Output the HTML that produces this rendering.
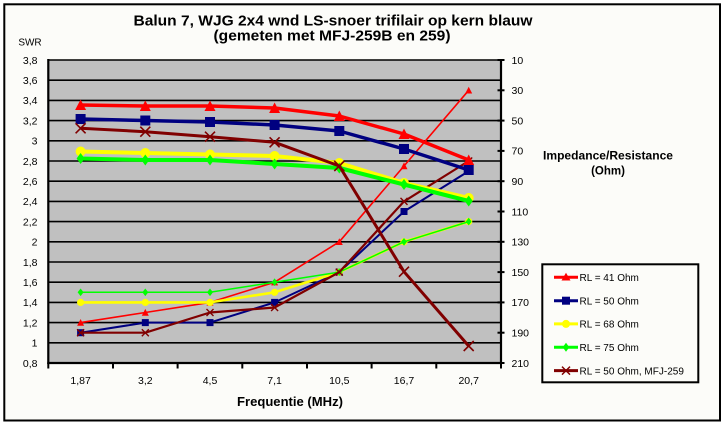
<!DOCTYPE html>
<html>
<head>
<meta charset="utf-8">
<style>
  html, body { margin: 0; padding: 0; background: #ffffff; }
  svg { display: block; }
  text { font-family: "Liberation Sans", Arial, sans-serif; fill: #000; }
</style>
</head>
<body>
<svg width="726" height="425" viewBox="0 0 726 425" xmlns="http://www.w3.org/2000/svg">
  <defs>
    <!-- big markers -->
    <marker id="triB" markerUnits="userSpaceOnUse" markerWidth="20" markerHeight="20" refX="0" refY="0" overflow="visible">
      <path d="M0,-5.5 L5.5,5 L-5.5,5Z" fill="#ff0000"/>
    </marker>
    <marker id="sqB" markerUnits="userSpaceOnUse" markerWidth="20" markerHeight="20" refX="0" refY="0" overflow="visible">
      <rect x="-5" y="-5" width="10" height="10" fill="#000080"/>
    </marker>
    <marker id="ciB" markerUnits="userSpaceOnUse" markerWidth="20" markerHeight="20" refX="0" refY="0" overflow="visible">
      <circle cx="0" cy="0" r="5" fill="#ffff00"/>
    </marker>
    <marker id="diB" markerUnits="userSpaceOnUse" markerWidth="20" markerHeight="20" refX="0" refY="0" overflow="visible">
      <path d="M0,-5.5 L4,0 L0,5.5 L-4,0Z" fill="#00ff00"/>
    </marker>
    <marker id="xB" markerUnits="userSpaceOnUse" markerWidth="20" markerHeight="20" refX="0" refY="0" overflow="visible">
      <path d="M-5,-5 L5,5 M-5,5 L5,-5" stroke="#800000" stroke-width="1.6" fill="none"/>
    </marker>
    <!-- small markers -->
    <marker id="triS" markerUnits="userSpaceOnUse" markerWidth="20" markerHeight="20" refX="0" refY="0" overflow="visible">
      <path d="M0,-3.6 L3.5,3.2 L-3.5,3.2Z" fill="#ff0000"/>
    </marker>
    <marker id="sqS" markerUnits="userSpaceOnUse" markerWidth="20" markerHeight="20" refX="0" refY="0" overflow="visible">
      <rect x="-3.5" y="-3.5" width="7" height="7" fill="#000080"/>
    </marker>
    <marker id="ciS" markerUnits="userSpaceOnUse" markerWidth="20" markerHeight="20" refX="0" refY="0" overflow="visible">
      <circle cx="0" cy="0" r="3.6" fill="#ffff00"/>
    </marker>
    <marker id="diS" markerUnits="userSpaceOnUse" markerWidth="20" markerHeight="20" refX="0" refY="0" overflow="visible">
      <path d="M0,-3.8 L3,0 L0,3.8 L-3,0Z" fill="#00ff00"/>
    </marker>
    <marker id="xS" markerUnits="userSpaceOnUse" markerWidth="20" markerHeight="20" refX="0" refY="0" overflow="visible">
      <path d="M-3.5,-3.5 L3.5,3.5 M-3.5,3.5 L3.5,-3.5" stroke="#800000" stroke-width="1.4" fill="none"/>
    </marker>
  </defs>

  <!-- background and chart border -->
  <rect x="0" y="0" width="726" height="425" fill="#ffffff"/>
  <rect x="4.3" y="4.3" width="715.7" height="416.2" fill="#fcfcf9" stroke="#000" stroke-width="2"/>

  <!-- title -->
  <text x="333" y="25.5" font-size="15" font-weight="bold" text-anchor="middle" textLength="399" lengthAdjust="spacingAndGlyphs">Balun 7, WJG 2x4 wnd LS-snoer trifilair op kern blauw</text>
  <text x="332" y="40.5" font-size="15" font-weight="bold" text-anchor="middle" textLength="237" lengthAdjust="spacingAndGlyphs">(gemeten met MFJ-259B en 259)</text>

  <!-- plot area -->
  <rect x="48.3" y="60" width="452.7" height="303" fill="#c0c0c0"/>

  <!-- gridlines -->
  <g stroke="#000" stroke-width="1.6">
    <line x1="48.3" y1="60" x2="501" y2="60"/>
    <line x1="48.3" y1="80.2" x2="501" y2="80.2"/>
    <line x1="48.3" y1="100.4" x2="501" y2="100.4"/>
    <line x1="48.3" y1="120.6" x2="501" y2="120.6"/>
    <line x1="48.3" y1="140.8" x2="501" y2="140.8"/>
    <line x1="48.3" y1="161" x2="501" y2="161"/>
    <line x1="48.3" y1="181.2" x2="501" y2="181.2"/>
    <line x1="48.3" y1="201.4" x2="501" y2="201.4"/>
    <line x1="48.3" y1="221.6" x2="501" y2="221.6"/>
    <line x1="48.3" y1="241.8" x2="501" y2="241.8"/>
    <line x1="48.3" y1="262" x2="501" y2="262"/>
    <line x1="48.3" y1="282.2" x2="501" y2="282.2"/>
    <line x1="48.3" y1="302.4" x2="501" y2="302.4"/>
    <line x1="48.3" y1="322.6" x2="501" y2="322.6"/>
    <line x1="48.3" y1="342.8" x2="501" y2="342.8"/>
  </g>

  <!-- axes -->
  <g stroke="#000" stroke-width="2.2">
    <line x1="48.3" y1="59" x2="48.3" y2="364"/>
    <line x1="47.3" y1="363" x2="502" y2="363"/>
    <line x1="501" y1="59" x2="501" y2="364"/>
  </g>
  <!-- x ticks -->
  <g stroke="#000" stroke-width="2">
    <line x1="48.3" y1="363" x2="48.3" y2="368.5"/>
    <line x1="113" y1="363" x2="113" y2="368.5"/>
    <line x1="177.6" y1="363" x2="177.6" y2="368.5"/>
    <line x1="242.3" y1="363" x2="242.3" y2="368.5"/>
    <line x1="307" y1="363" x2="307" y2="368.5"/>
    <line x1="371.6" y1="363" x2="371.6" y2="368.5"/>
    <line x1="436.3" y1="363" x2="436.3" y2="368.5"/>
    <line x1="501" y1="363" x2="501" y2="368.5"/>
  </g>
  <!-- right ticks -->
  <g stroke="#000" stroke-width="2">
    <line x1="497.5" y1="60" x2="504.5" y2="60"/>
    <line x1="497.5" y1="90.3" x2="504.5" y2="90.3"/>
    <line x1="497.5" y1="120.6" x2="504.5" y2="120.6"/>
    <line x1="497.5" y1="150.9" x2="504.5" y2="150.9"/>
    <line x1="497.5" y1="181.2" x2="504.5" y2="181.2"/>
    <line x1="497.5" y1="211.5" x2="504.5" y2="211.5"/>
    <line x1="497.5" y1="241.8" x2="504.5" y2="241.8"/>
    <line x1="497.5" y1="272.1" x2="504.5" y2="272.1"/>
    <line x1="497.5" y1="302.4" x2="504.5" y2="302.4"/>
    <line x1="497.5" y1="332.7" x2="504.5" y2="332.7"/>
    <line x1="497.5" y1="363" x2="504.5" y2="363"/>
  </g>

  <!-- left axis labels -->
  <g font-size="10.5" text-anchor="end">
    <text x="37.5" y="63.8">3,8</text>
    <text x="37.5" y="84">3,6</text>
    <text x="37.5" y="104.2">3,4</text>
    <text x="37.5" y="124.4">3,2</text>
    <text x="37.5" y="144.6">3</text>
    <text x="37.5" y="164.8">2,8</text>
    <text x="37.5" y="185">2,6</text>
    <text x="37.5" y="205.2">2,4</text>
    <text x="37.5" y="225.4">2,2</text>
    <text x="37.5" y="245.6">2</text>
    <text x="37.5" y="265.8">1,8</text>
    <text x="37.5" y="286">1,6</text>
    <text x="37.5" y="306.2">1,4</text>
    <text x="37.5" y="326.4">1,2</text>
    <text x="37.5" y="346.6">1</text>
    <text x="37.5" y="366.8">0,8</text>
  </g>
  <text x="30" y="45.5" font-size="10" text-anchor="middle">SWR</text>

  <!-- right axis labels -->
  <g font-size="10.5" text-anchor="start">
    <text x="511.5" y="63.8">10</text>
    <text x="511.5" y="94.1">30</text>
    <text x="511.5" y="124.4">50</text>
    <text x="511.5" y="154.7">70</text>
    <text x="511.5" y="185">90</text>
    <text x="511.5" y="215.3">110</text>
    <text x="511.5" y="245.6">130</text>
    <text x="511.5" y="275.9">150</text>
    <text x="511.5" y="306.2">170</text>
    <text x="511.5" y="336.5">190</text>
    <text x="511.5" y="366.8">210</text>
  </g>
  <text x="608" y="159.5" font-size="11.5" font-weight="bold" text-anchor="middle" textLength="130" lengthAdjust="spacingAndGlyphs">Impedance/Resistance</text>
  <text x="608" y="174.5" font-size="11.5" font-weight="bold" text-anchor="middle">(Ohm)</text>

  <!-- x labels -->
  <g font-size="10.5" text-anchor="middle">
    <text x="80.6" y="384">1,87</text>
    <text x="145.3" y="384">3,2</text>
    <text x="210" y="384">4,5</text>
    <text x="274.6" y="384">7,1</text>
    <text x="339.3" y="384">10,5</text>
    <text x="404" y="384">16,7</text>
    <text x="468.7" y="384">20,7</text>
  </g>
  <text x="290" y="406" font-size="12.5" font-weight="bold" text-anchor="middle" textLength="106" lengthAdjust="spacingAndGlyphs">Frequentie (MHz)</text>

  <!-- thin series (SWR) -->
  <g fill="none" stroke-linejoin="round">
    <polyline points="80.6,322.6 145.3,312.5 210,302.4 274.6,282.2 339.3,241.8 404,166 468.7,90.3" stroke="#ff0000" stroke-width="1.6" marker-start="url(#triS)" marker-mid="url(#triS)" marker-end="url(#triS)"/>
    <polyline points="80.6,332.7 145.3,322.6 210,322.6 274.6,302.4 339.3,272.1 404,211.5 468.7,171.1" stroke="#000080" stroke-width="2" marker-start="url(#sqS)" marker-mid="url(#sqS)" marker-end="url(#sqS)"/>
    <polyline points="80.6,302.4 145.3,302.4 210,302.4 274.6,292.3 339.3,272.1 404,241.8 468.7,221.6" stroke="#ffff00" stroke-width="2.6" marker-start="url(#ciS)" marker-mid="url(#ciS)" marker-end="url(#ciS)"/>
    <polyline points="80.6,292.3 145.3,292.3 210,292.3 274.6,282.2 339.3,272.1 404,241.8 468.7,221.6" stroke="#00ff00" stroke-width="1.5" marker-start="url(#diS)" marker-mid="url(#diS)" marker-end="url(#diS)"/>
    <polyline points="80.6,332.7 145.3,332.7 210,312.5 274.6,307.5 339.3,272.1 404,201.4 468.7,161" stroke="#800000" stroke-width="2.2" marker-start="url(#xS)" marker-mid="url(#xS)" marker-end="url(#xS)"/>
  </g>

  <!-- thick series (impedance) -->
  <g fill="none" stroke-linejoin="round">
    <polyline points="80.6,105 145.3,106 210,106 274.6,108 339.3,116 404,134 468.7,160" stroke="#ff0000" stroke-width="3.5" marker-start="url(#triB)" marker-mid="url(#triB)" marker-end="url(#triB)"/>
    <polyline points="80.6,119 145.3,120.5 210,122 274.6,125 339.3,131 404,149 468.7,170" stroke="#000080" stroke-width="3.5" marker-start="url(#sqB)" marker-mid="url(#sqB)" marker-end="url(#sqB)"/>
    <polyline points="80.6,151.5 145.3,153 210,154.5 274.6,156 339.3,163 404,183 468.7,198" stroke="#ffff00" stroke-width="4" marker-start="url(#ciB)" marker-mid="url(#ciB)" marker-end="url(#ciB)"/>
    <polyline points="80.6,158.5 145.3,160 210,160 274.6,164 339.3,168 404,184.5 468.7,201" stroke="#00ff00" stroke-width="4" marker-start="url(#diB)" marker-mid="url(#diB)" marker-end="url(#diB)"/>
    <polyline points="80.6,128.3 145.3,131.7 210,136.7 274.6,142.3 339.3,166 404,271.7 468.7,346" stroke="#800000" stroke-width="3" marker-start="url(#xB)" marker-mid="url(#xB)" marker-end="url(#xB)"/>
  </g>

  <!-- legend -->
  <rect x="542.3" y="264.3" width="156" height="118" fill="#fcfcf9" stroke="#000" stroke-width="2"/>
  <g stroke-width="3">
    <line x1="554" y1="277.3" x2="578" y2="277.3" stroke="#ff0000"/>
    <path d="M566,272.8 L570.5,280.5 L561.5,280.5Z" fill="#ff0000" stroke="none"/>
    <line x1="554" y1="300.7" x2="578" y2="300.7" stroke="#000080"/>
    <rect x="562" y="296.7" width="8" height="8" fill="#000080" stroke="none"/>
    <line x1="554" y1="323.9" x2="578" y2="323.9" stroke="#ffff00"/>
    <circle cx="566" cy="323.9" r="4" fill="#ffff00" stroke="none"/>
    <line x1="554" y1="347.2" x2="578" y2="347.2" stroke="#00ff00"/>
    <path d="M566,342.7 L569.3,347.2 L566,351.7 L562.7,347.2Z" fill="#00ff00" stroke="none"/>
    <line x1="554" y1="370.6" x2="578" y2="370.6" stroke="#800000"/>
    <path d="M562,366.6 L570,374.6 M562,374.6 L570,366.6" stroke="#800000" stroke-width="1.5" fill="none"/>
  </g>
  <g font-size="10">
    <text x="579.5" y="281">RL = 41 Ohm</text>
    <text x="579.5" y="304.4">RL = 50 Ohm</text>
    <text x="579.5" y="327.6">RL = 68 Ohm</text>
    <text x="579.5" y="350.9">RL = 75 Ohm</text>
    <text x="579.5" y="374.3">RL = 50 Ohm, MFJ-259</text>
  </g>
</svg>
</body>
</html>
